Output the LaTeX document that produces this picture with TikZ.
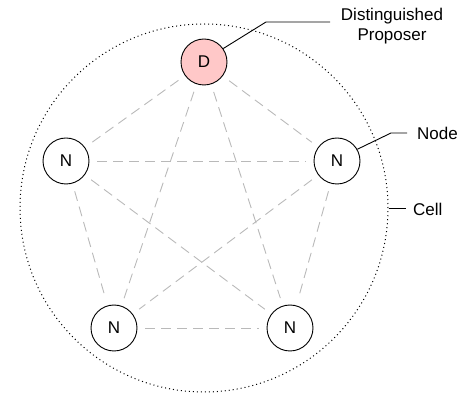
\documentclass[tikz,border=0pt]{standalone}
\usepackage{fontspec}
\setmainfont{Liberation Sans}
\usepackage{tikz}
\usetikzlibrary{positioning}
\definecolor{proposerfill}{RGB}{255,200,200}
\definecolor{linkgray}{RGB}{185,185,185}
\def\nodeR{46pt}
\def\cellR{368pt}
\def\gap{8pt}

\begin{document}
\begin{tikzpicture}[
    x=1pt, y=-1pt,
    font=\fontsize{17}{20}\selectfont,
    member/.style={circle, draw, line width=0.9pt, minimum size=\nodeR, inner sep=0pt},
    link/.style={draw=linkgray, line width=0.9pt, dash pattern=on 10pt off 6pt, shorten >=\gap, shorten <=\gap},
    leader/.style={draw, line width=0.9pt},
    tag/.style={inner sep=0pt}
]
\useasboundingbox (0,0) rectangle (461,395);

% the cell
\node[circle, draw, line width=1pt, dash pattern=on 1pt off 3pt, minimum size=\cellR] (cell) at (204,208) {};

% members
\node[member, fill=proposerfill] (D) at (204,62) {D};
\node[member] (N1) at (66,161) {N};
\node[member] (N2) at (337,161) {N};
\node[member] (N3) at (114,328) {N};
\node[member] (N4) at (290,328) {N};

% every member talks to every other one
\foreach \u/\v in {D/N1, D/N2, D/N3, D/N4, N1/N2, N1/N3, N1/N4, N2/N3, N2/N4, N3/N4}
    \draw[link] (\u) -- (\v);

% labels
\node[tag, align=center] (dpText) at (392,26) {Distinguished\\Proposer};
\node[tag, anchor=west] (nodeText) at (417,133) {Node};
\node[tag, anchor=west] (cellText) at (413,209) {Cell};

\coordinate (dpBend) at (266,22);
\coordinate (dpEnd) at (330,22);
\coordinate (nodeBend) at (391,133);
\coordinate (nodeEnd) at (407,133);
\coordinate (cellEnd) at (406,208);

\draw[leader] (D.35) -- (dpBend) -- (dpEnd);
\draw[leader] (N2.30) -- (nodeBend) -- (nodeEnd);
\draw[leader] (cell.east) -- (cellEnd);
\end{tikzpicture}
\end{document}
